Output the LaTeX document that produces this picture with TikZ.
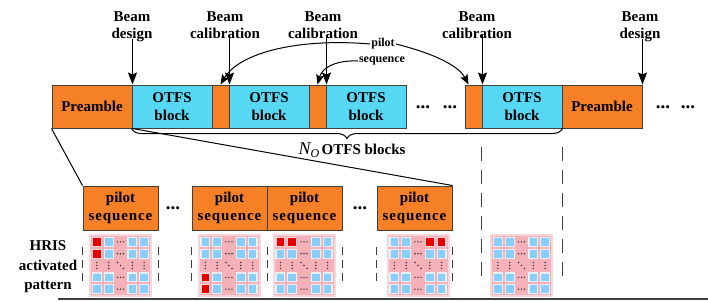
\documentclass[tikz,border=0pt]{standalone}
\usepackage{fontspec}
\setmainfont{Liberation Serif}
\usetikzlibrary{arrows.meta,decorations.pathreplacing}
\definecolor{orng}{RGB}{246,128,38}
\definecolor{cyanb}{RGB}{86,216,245}
\definecolor{gridpink}{RGB}{245,176,184}
\definecolor{gridrim}{RGB}{250,214,220}
\definecolor{cellblue}{RGB}{135,206,250}
\definecolor{cellrim}{RGB}{232,240,246}
\definecolor{cellred}{RGB}{232,0,0}
\definecolor{lineg}{RGB}{64,64,64}
\newcommand\hrisgrid[2]{%
 \begin{scope}[shift={(#1,#2)}]
  \fill[gridrim] (-31.5,-31.5) rectangle (31.5,31.5);
  \fill[gridpink] (-29.5,-29.5) rectangle (29.5,29.5);
  \foreach \i in {-2,-1,1,2} \foreach \j in {-2,-1,1,2} {
    \fill[cellrim] ({\i*11.8-5},{\j*11.8-5}) rectangle +(10,10);
    \fill[cellblue] ({\i*11.8-3.8},{\j*11.8-3.8}) rectangle +(7.6,7.6);
  }
  \foreach \j in {-2,-1,1,2} \foreach \d in {-3,0,3} \fill[black!80] ({\d},{\j*11.8}) circle (0.8);
  \foreach \i in {-2,-1,1,2} \foreach \d in {-3,0,3} \fill[black!80] ({\i*11.8},{\d}) circle (0.8);
  \foreach \d in {-3,0,3} \fill[black!80] ({\d},{\d}) circle (0.8);
 \end{scope}}
\newcommand\redcell[4]{%
  \fill[gridrim] ({#1+#3*11.8-5},{#2+#4*11.8-5}) rectangle +(10,10);
  \fill[cellred] ({#1+#3*11.8-3.8},{#2+#4*11.8-3.8}) rectangle +(7.6,7.6);}
\begin{document}
\begin{tikzpicture}[x=1pt,y=-1pt,
  every node/.style={font=\bfseries\fontsize{15}{17}\selectfont},
  blk/.style={draw=lineg, line width=1pt, minimum height=43pt, inner sep=0pt, align=center, font=\bfseries\fontsize{15}{18}\selectfont},
  pre/.style={blk, fill=orng, minimum width=80pt},
  otfs/.style={blk, fill=cyanb, minimum width=80pt},
  sliv/.style={blk, fill=orng, minimum width=17pt},
  pbox/.style={blk, fill=orng, minimum width=75pt, minimum height=44pt},
  lbl/.style={align=center, inner sep=0pt, anchor=north},
  arr/.style={-{Stealth[length=12pt,width=9pt,inset=2pt]}, line width=1.1pt, black},
  carr/.style={-{Stealth[length=10pt,width=8pt,inset=2pt]}, line width=1pt, black},
  ann/.style={font=\bfseries\fontsize{12}{14}\selectfont, inner sep=1pt},
  dts/.style={inner sep=0pt, font=\bfseries\fontsize{19}{19}\selectfont},
  tdash/.style={lineg, line width=1pt, dash pattern=on 14pt off 9pt},
  sdash/.style={lineg, line width=1pt, dash pattern=on 8pt off 5pt},
]
\useasboundingbox (0,0) rectangle (708,301);
% top row
\node[pre] (pre1) at (92,106.5) {Preamble};
\node[otfs] (ob1) at (172,106.5) {OTFS\\block};
\node[sliv] (s1) at (220.5,106.5) {};
\node[otfs] (ob2) at (269,106.5) {OTFS\\block};
\node[sliv] (s2) at (317.5,106.5) {};
\node[otfs] (ob3) at (366,106.5) {OTFS\\block};
\node[dts] (d1) at (423,107) {...};
\node[dts] (d2) at (450,107) {...};
\node[sliv] (s3) at (473.5,106.5) {};
\node[otfs] (ob4) at (522,106.5) {OTFS\\block};
\node[pre] (pre2) at (602,106.5) {Preamble};
\node[dts] (d3) at (663,107) {...};
\node[dts] (d4) at (688,107) {...};
% labels above
\node[lbl] (bd1) at (132,11) {Beam\\design};
\node[lbl] (bc1) at (225,11) {Beam\\calibration};
\node[lbl] (bc2) at (323,11) {Beam\\calibration};
\node[lbl] (bc3) at (477,11) {Beam\\calibration};
\node[lbl] (bd2) at (640,11) {Beam\\design};
\draw[arr, shorten <=-3pt] (pre1.north east |- bd1.south) -- (pre1.north east);
\draw[arr, shorten <=-3pt] (s1.north east |- bc1.south) -- (s1.north east);
\draw[arr, shorten <=-3pt] (s2.north east |- bc2.south) -- (s2.north east);
\draw[arr, shorten <=-3pt] (s3.north east |- bc3.south) -- (s3.north east);
\draw[arr, shorten <=-3pt] (pre2.north east |- bd2.south) -- (pre2.north east);
% pilot annotation
\node[ann] (pl) at (383,44) {pilot};
\node[ann] (sq) at (382,61) {sequence};
\draw[carr] (pl.west) .. controls (300,38) and (240,52) .. (s1.north);
\draw[carr] (sq.west) .. controls (335,60) and (322,68) .. (s2.north);
\draw[carr] (pl.east) .. controls (440,55) and (460,68) .. ([xshift=-5pt]s3.north);
% brace and label
\draw[decorate, decoration={brace, mirror, amplitude=10pt}, line width=1pt] (ob1.south west) -- (ob4.south east);
\node[anchor=base, inner sep=0pt] (nlab) at (352,154) {{\fontsize{18}{18}\selectfont\itshape\mdseries N}\raisebox{-3pt}{\fontsize{12}{12}\selectfont\itshape\mdseries O}\,OTFS blocks};
% pilot boxes
\node[pbox] (pb1) at (120.5,208) {pilot\\{\addfontfeature{LetterSpace=6}sequence}};
\node[pbox] (pb2) at (229.5,208) {pilot\\{\addfontfeature{LetterSpace=6}sequence}};
\node[pbox] (pb3) at (304.5,208) {pilot\\{\addfontfeature{LetterSpace=6}sequence}};
\node[pbox] (pb4) at (414.5,208) {pilot\\{\addfontfeature{LetterSpace=6}sequence}};
\node[dts] (pd1) at (173,208) {...};
\node[dts] (pd2) at (360,208) {...};
\draw[line width=1pt] (pre1.south west) -- (pb1.north west);
\draw[line width=1pt] (pre1.south east) -- (pb4.north east);
% dashed lines
\draw[tdash] (ob4.south west |- 0,147) -- (ob4.south west |- 0,280);
\draw[tdash] (ob4.south east |- 0,147) -- (ob4.south east |- 0,280);
\foreach \n/\a in {pb1/west,pb1/east,pb2/west,pb2/east,pb3/east,pb4/west,pb4/east}
  \draw[sdash] (\n.\a |- 0,247) -- (\n.\a |- 0,283);
% HRIS label
\node[align=center, inner sep=0pt, font=\bfseries\fontsize{15}{19.5}\selectfont] (hris) at (48,267) {HRIS\\activated\\pattern};
% grids
\hrisgrid{120.5}{265.5}
\redcell{120.5}{265.5}{-2}{-2}
\redcell{120.5}{265.5}{-2}{-1}
\hrisgrid{229}{265.5}
\redcell{229}{265.5}{-2}{1}
\redcell{229}{265.5}{-2}{2}
\hrisgrid{304}{265.5}
\redcell{304}{265.5}{-2}{-2}
\redcell{304}{265.5}{-1}{-2}
\hrisgrid{418}{265.5}
\redcell{418}{265.5}{1}{-2}
\redcell{418}{265.5}{2}{-2}
\hrisgrid{521.5}{265.5}
% bottom line
\draw[lineg, line width=1.6pt] (58,299) -- (708,299);
\end{tikzpicture}
\end{document}
